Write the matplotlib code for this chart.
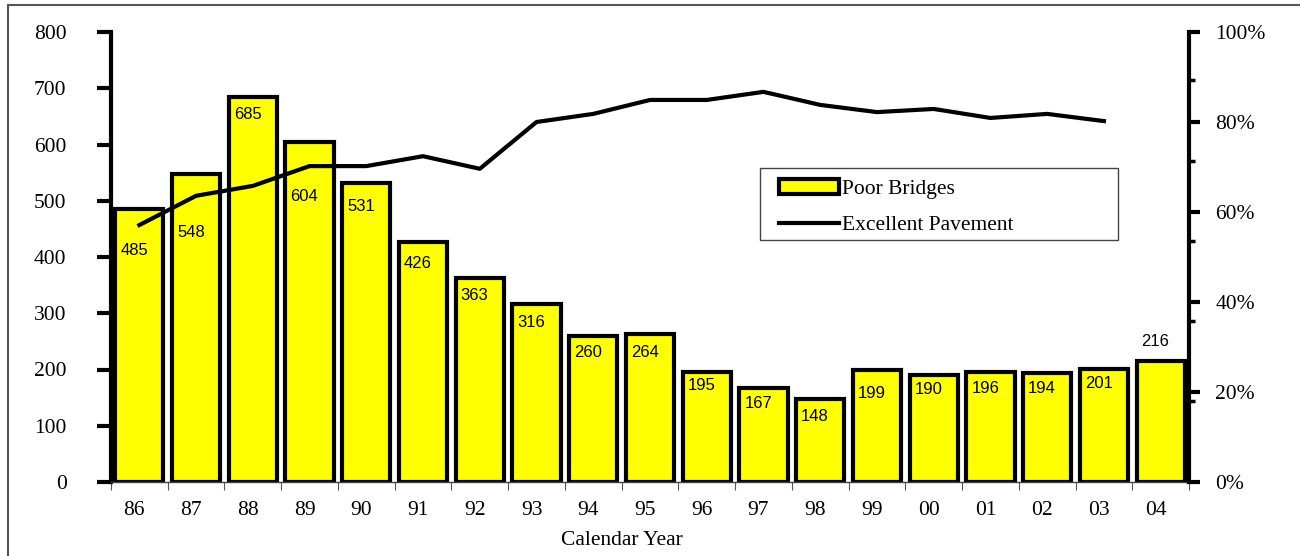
import matplotlib
matplotlib.use("Agg")
import matplotlib.pyplot as plt
from matplotlib.patches import Rectangle, Patch
from matplotlib.lines import Line2D
import matplotlib.transforms as mtransforms
import numpy as np

# ---- data ----
years = ["86", "87", "88", "89", "90", "91", "92", "93", "94", "95",
         "96", "97", "98", "99", "00", "01", "02", "03", "04"]
poor_bridges = [485, 548, 685, 604, 531, 426, 363, 316, 260, 264,
                195, 167, 148, 199, 190, 196, 194, 201, 216]
excellent_pavement = [57.1, 63.6, 65.8, 70.2, 70.2, 72.4, 69.6, 80.0, 81.8, 84.9,
                      84.9, 86.7, 83.8, 82.2, 82.9, 80.9, 81.8, 80.2]
# vertical anchor of each bar's value label (left-axis units)
label_y = [412, 444, 654, 507, 489, 389, 332, 284, 231, 231,
           172, 140, 117, 158, 164, 167, 167, 176, 249]
left_ticks = [0, 100, 200, 300, 400, 500, 600, 700, 800]
right_ticks = [0, 20, 40, 60, 80, 100]
right_minor = [17.9, 35.7, 53.6, 71.4, 89.3]

W, H = 1300, 556
fig = plt.figure(figsize=(W / 100, H / 100), dpi=100)
serif = ["Liberation Serif", "DejaVu Serif"]
sans = ["Liberation Sans", "DejaVu Sans"]
plt.rcParams["font.family"] = serif

ax = fig.add_axes([111 / W, 1 - 482 / H, (1189 - 111) / W, (482 - 32) / H])
x = np.arange(len(years))

bars = ax.bar(x, poor_bridges, width=0.85, color="#FFFF00",
              edgecolor="black", linewidth=3, zorder=2)
for xi, v, ly in zip(x, poor_bridges, label_y):
    ax.text(xi - 0.09, ly, str(v), ha="center", va="center",
            fontsize=12, family=sans, zorder=5)

ax.set_xlim(-0.5, len(years) - 0.5)
ax.set_ylim(0, 800)
ax.set_yticks(left_ticks)
ax.set_yticklabels([str(t) for t in left_ticks], fontsize=15.5)
ax.set_xticks(x)
ax.set_xticklabels(years, fontsize=15.5)
ax.set_xticks(np.arange(len(years) + 1) - 0.5, minor=True)
ax.tick_params(axis="x", which="major", length=0, pad=14)
ax.tick_params(axis="x", which="minor", length=6, width=0.8, color="#555555", direction="out")
ax.tick_params(axis="y", which="major", length=10, width=3, pad=22, direction="out")
shift = mtransforms.ScaledTranslation(-5 / 100, 0, fig.dpi_scale_trans)
for lab in ax.get_xticklabels():
    lab.set_transform(lab.get_transform() + shift)
xl = ax.set_xlabel("Calendar Year", fontsize=15.5, labelpad=4)
ax.xaxis.set_label_coords((622 - 111) / (1189 - 111), -0.005 - (538 - 482) / 450, transform=ax.transAxes)
xl.set_va("center")

for s in ["top", "right"]:
    ax.spines[s].set_visible(False)
ax.spines["left"].set_linewidth(3)
ax.spines["bottom"].set_linewidth(1)
ax.spines["bottom"].set_color("#444444")

ax2 = ax.twinx()
ax2.set_ylim(0, 100)
ax2.plot(x[:len(excellent_pavement)], excellent_pavement, color="black",
         linewidth=3, solid_joinstyle="round", zorder=4)
ax2.set_yticks(right_ticks)
ax2.set_yticklabels([f"{t}%" for t in right_ticks], fontsize=15.5)
ax2.set_yticks(right_minor, minor=True)
ax2.tick_params(axis="y", which="major", length=8, width=3, pad=11, direction="out")
ax2.tick_params(axis="y", which="minor", length=4, width=2.5, direction="out")
for s in ["top", "left", "bottom"]:
    ax2.spines[s].set_visible(False)
ax2.spines["right"].set_linewidth(3)

# legend
handles = [Patch(facecolor="#FFFF00", edgecolor="black", linewidth=3),
           Line2D([0], [0], color="black", linewidth=3)]
leg = fig.legend(handles, ["Poor Bridges", "Excellent Pavement"],
                 loc="upper left", bbox_to_anchor=(764 / W, 1 - 164 / H),
                 frameon=False, fontsize=15.5, handlelength=2.8,
                 handletextpad=0.1, labelspacing=0.75, borderpad=0.2)
fig.add_artist(Rectangle((760 / W, 1 - 240 / H), (1118 - 760) / W, 72 / H,
                         transform=fig.transFigure, fill=False,
                         edgecolor="#444444", linewidth=1.0))

# outer frame
fig.add_artist(Rectangle((8 / W, -0.1), 1.2, 1.1 - 5 / H,
                         transform=fig.transFigure, fill=False,
                         edgecolor="#555555", linewidth=1.5))

fig.savefig("out.png", dpi=100)
